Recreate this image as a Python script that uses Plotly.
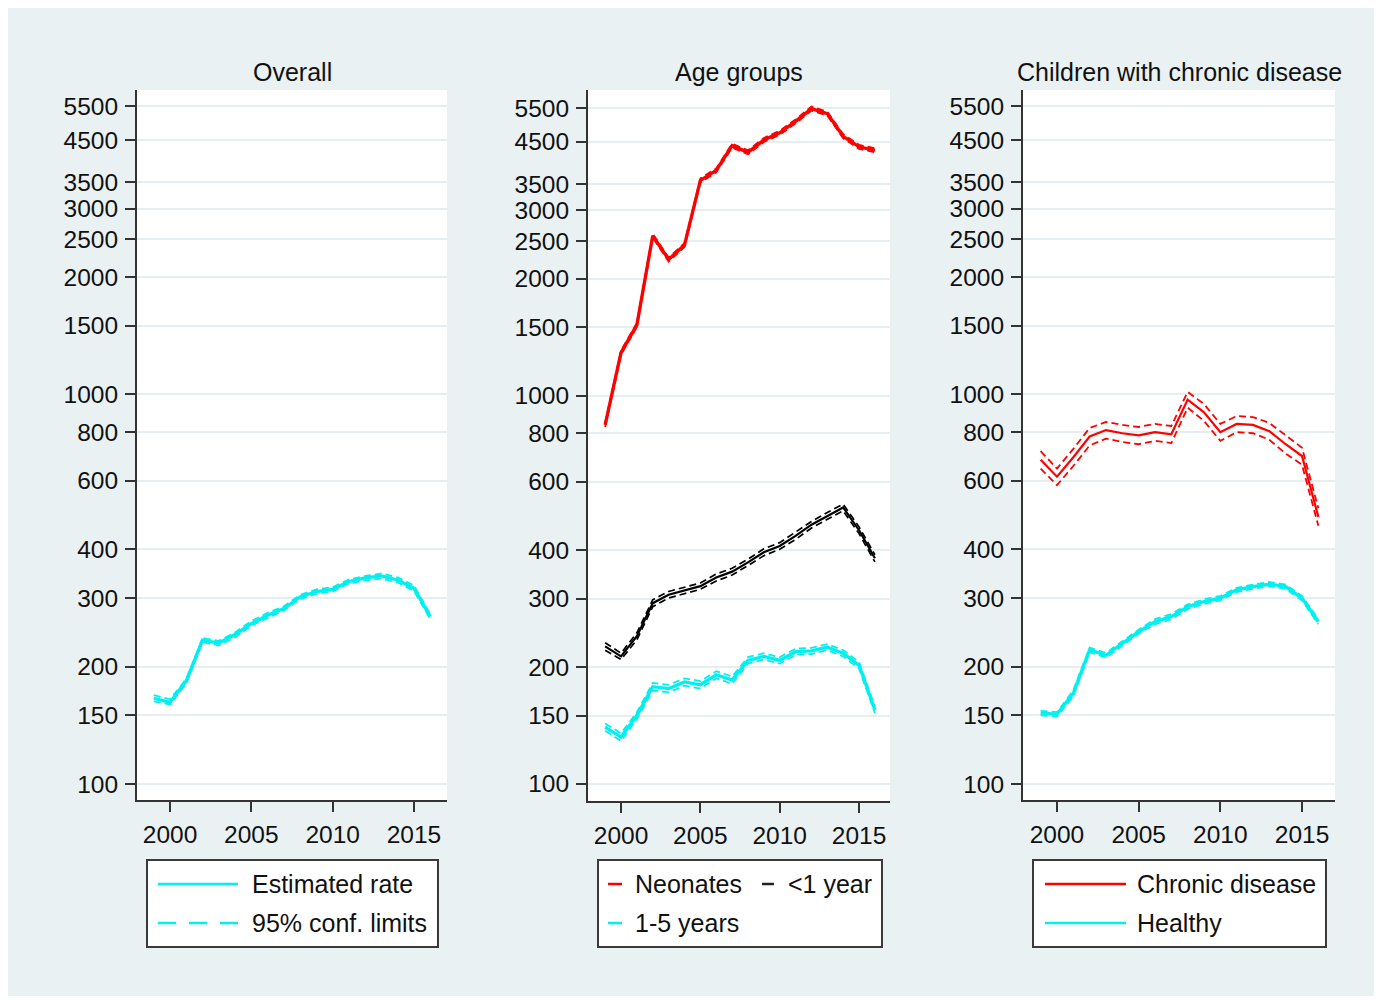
import plotly.graph_objects as go

# The page body has an 8px margin, so the figure is offset by 8px.
OFF = 8
W, H = 1366, 988

years = list(range(1999, 2017))

# Panel 1: Overall
overall_est = [166, 162, 184, 234, 230, 242, 258, 271, 282, 302, 312, 316, 331, 338, 342, 334, 318, 269]
overall_lo = [163, 160, 181, 231, 227, 238, 255, 267, 279, 298, 308, 312, 327, 333, 337, 329, 313, 265]
overall_hi = [169, 165, 186, 237, 233, 245, 262, 275, 286, 306, 316, 320, 335, 342, 347, 339, 323, 273]

# Panel 2: Age groups
neo_est = [840, 1290, 1520, 2580, 2240, 2440, 3580, 3800, 4400, 4230, 4550, 4750, 5080, 5480, 5320, 4650, 4370, 4280]
neo_lo = [830, 1275, 1502, 2550, 2213, 2411, 3537, 3755, 4348, 4180, 4496, 4694, 5020, 5415, 5257, 4595, 4318, 4229]
neo_hi = [850, 1305, 1538, 2610, 2267, 2469, 3623, 3845, 4452, 4280, 4604, 4806, 5140, 5545, 5383, 4705, 4422, 4331]

inf_est = [226, 213, 240, 292, 307, 315, 323, 340, 352, 372, 395, 410, 435, 465, 490, 515, 450, 381]
inf_lo = [221, 209, 235, 286, 301, 309, 317, 333, 345, 365, 387, 402, 426, 456, 480, 505, 441, 373]
inf_hi = [231, 217, 245, 298, 313, 321, 329, 347, 359, 379, 403, 418, 444, 474, 500, 525, 459, 389]

kid_est = [140, 132, 150, 178, 176, 183, 180, 191, 185, 208, 213, 208, 219, 220, 225, 217, 202, 155]
kid_lo = [137, 129, 147, 174, 172, 179, 176, 187, 181, 204, 209, 204, 215, 216, 221, 213, 198, 152]
kid_hi = [143, 135, 153, 182, 180, 187, 184, 195, 189, 212, 217, 212, 223, 224, 229, 221, 206, 158]

# Panel 3: Children with chronic disease
chr_est = [680, 615, 690, 780, 810, 795, 785, 800, 790, 970, 900, 800, 840, 835, 805, 745, 695, 485]
chr_lo = [645, 585, 655, 740, 770, 755, 745, 760, 750, 925, 855, 760, 800, 795, 765, 705, 660, 460]
chr_hi = [715, 645, 725, 820, 850, 835, 825, 840, 830, 1015, 945, 840, 880, 875, 845, 785, 730, 510]

hea_est = [152, 151, 171, 221, 214, 230, 246, 261, 269, 285, 294, 300, 315, 321, 326, 321, 300, 261]
hea_lo = [150, 149, 168, 218, 211, 227, 243, 257, 265, 281, 290, 296, 311, 317, 322, 317, 296, 257]
hea_hi = [154, 153, 174, 224, 217, 233, 249, 265, 273, 289, 298, 304, 319, 325, 330, 325, 304, 265]

y_ticks = [100, 150, 200, 300, 400, 600, 800, 1000, 1500, 2000, 2500, 3000, 3500, 4500, 5500]
x_ticks = [2000, 2005, 2010, 2015]
titles = ["Overall", "Age groups", "Children with chronic disease"]

CYAN = "#00f0f0"
RED = "#ff0000"
BLACK = "#000000"
FONT = "Liberation Sans, Arial, sans-serif"
TXT = "#111111"
AX = "#333333"


def px(x):
    return (x - OFF) / W


def py(y):
    return 1 - (y - OFF) / H


fig = go.Figure()


def add_series(axn, est, lo, hi, color, wid=3.3, ciw=1.8):
    xa = "x" if axn == 1 else f"x{axn}"
    ya = "y" if axn == 1 else f"y{axn}"
    for arr in (lo, hi):
        fig.add_trace(go.Scatter(x=years, y=arr, mode="lines", xaxis=xa, yaxis=ya,
                                 line=dict(color=color, width=ciw, dash="7px,4px"),
                                 showlegend=False, hoverinfo="skip"))
    fig.add_trace(go.Scatter(x=years, y=est, mode="lines", xaxis=xa, yaxis=ya,
                             line=dict(color=color, width=wid), showlegend=False))


add_series(1, overall_est, overall_lo, overall_hi, CYAN)
add_series(2, neo_est, neo_lo, neo_hi, RED)
add_series(2, inf_est, inf_lo, inf_hi, BLACK, 2.2, 1.7)
add_series(2, kid_est, kid_lo, kid_hi, CYAN)
add_series(3, chr_est, chr_lo, chr_hi, RED, 2.2)
add_series(3, hea_est, hea_lo, hea_hi, CYAN)

# panel geometry (reference pixels)
panels = [
    dict(x0=137, x1=447, y0=90, y1=800, xr=[1997.97, 2017.03], yr=[1.9589, 3.7815]),
    dict(x0=588, x1=890, y0=90, y1=801, xr=[1997.92, 2016.95], yr=[1.956, 3.7867]),
    dict(x0=1023, x1=1335, y0=90, y1=800, xr=[1997.92, 2017.02], yr=[1.9589, 3.7815]),
]

layout = dict(
    width=W, height=H,
    margin=dict(l=0, r=0, t=0, b=0),
    paper_bgcolor="#e9f1f3",
    plot_bgcolor="#ffffff",
    showlegend=False,
    font=dict(family=FONT, size=24, color=TXT),
)

for i, p in enumerate(panels, start=1):
    sfx = "" if i == 1 else str(i)
    layout[f"xaxis{sfx}"] = dict(
        domain=[px(p["x0"]), px(p["x1"])], anchor=f"y{sfx}", range=p["xr"],
        tickvals=x_ticks, ticks="outside", ticklen=10, tickwidth=2, tickcolor=AX,
        showline=True, linecolor=AX, linewidth=2, showgrid=False, zeroline=False,
        tickfont=dict(size=24.5, color=TXT, family=FONT), ticklabelstandoff=2,
    )
    layout[f"yaxis{sfx}"] = dict(
        domain=[py(p["y1"]), py(p["y0"])], anchor=f"x{sfx}", type="log", range=p["yr"],
        tickvals=y_ticks, ticktext=[str(v) for v in y_ticks],
        ticks="outside", ticklen=10, tickwidth=2, tickcolor=AX,
        showline=True, linecolor=AX, linewidth=2, showgrid=True,
        gridcolor="#e6eef1", gridwidth=2, zeroline=False,
        tickfont=dict(size=24.5, color=TXT, family=FONT), ticklabelstandoff=2,
    )

fig.update_layout(**layout)

annotations = []
shapes = []

# titles
for p, t in zip(panels, titles):
    annotations.append(dict(x=px((p["x0"] + p["x1"]) / 2), y=py(72), xref="paper", yref="paper",
                            text=t, showarrow=False, xanchor="center", yanchor="middle",
                            font=dict(size=25, color=TXT, family=FONT)))

# legend boxes
boxes = [(147, 438), (598, 882), (1033, 1326)]
for (a, c) in boxes:
    shapes.append(dict(type="rect", xref="paper", yref="paper", x0=px(a), x1=px(c), y0=py(947), y1=py(860),
                       fillcolor="#ffffff", line=dict(color="#3a3a3a", width=2), layer="above"))

# legend entries: (x0, x1, y, color, dash, text, text_x)
entries = [
    (158, 238, 884, CYAN, "solid", "Estimated rate", 250),
    (158, 238, 923, CYAN, "18px,13px", "95% conf. limits", 250),
    (608, 622, 884, RED, "solid", "Neonates", 633),
    (762, 774, 884, "#222222", "solid", "<1 year", 786),
    (608, 622, 923, CYAN, "solid", "1-5 years", 633),
    (1045, 1126, 884, RED, "solid", "Chronic disease", 1135),
    (1045, 1126, 923, CYAN, "solid", "Healthy", 1135),
]
for (a, c, y, col, dash, txt, tx) in entries:
    shapes.append(dict(type="line", xref="paper", yref="paper", x0=px(a), x1=px(c), y0=py(y), y1=py(y),
                       line=dict(color=col, width=2.5, dash=dash), layer="above"))
    annotations.append(dict(x=px(tx), y=py(y), xref="paper", yref="paper", text=txt.replace("<", "&lt;"),
                            showarrow=False, xanchor="left", yanchor="middle",
                            font=dict(size=25, color=TXT, family=FONT)))

fig.update_layout(annotations=annotations, shapes=shapes)

fig.write_html("out.html")
